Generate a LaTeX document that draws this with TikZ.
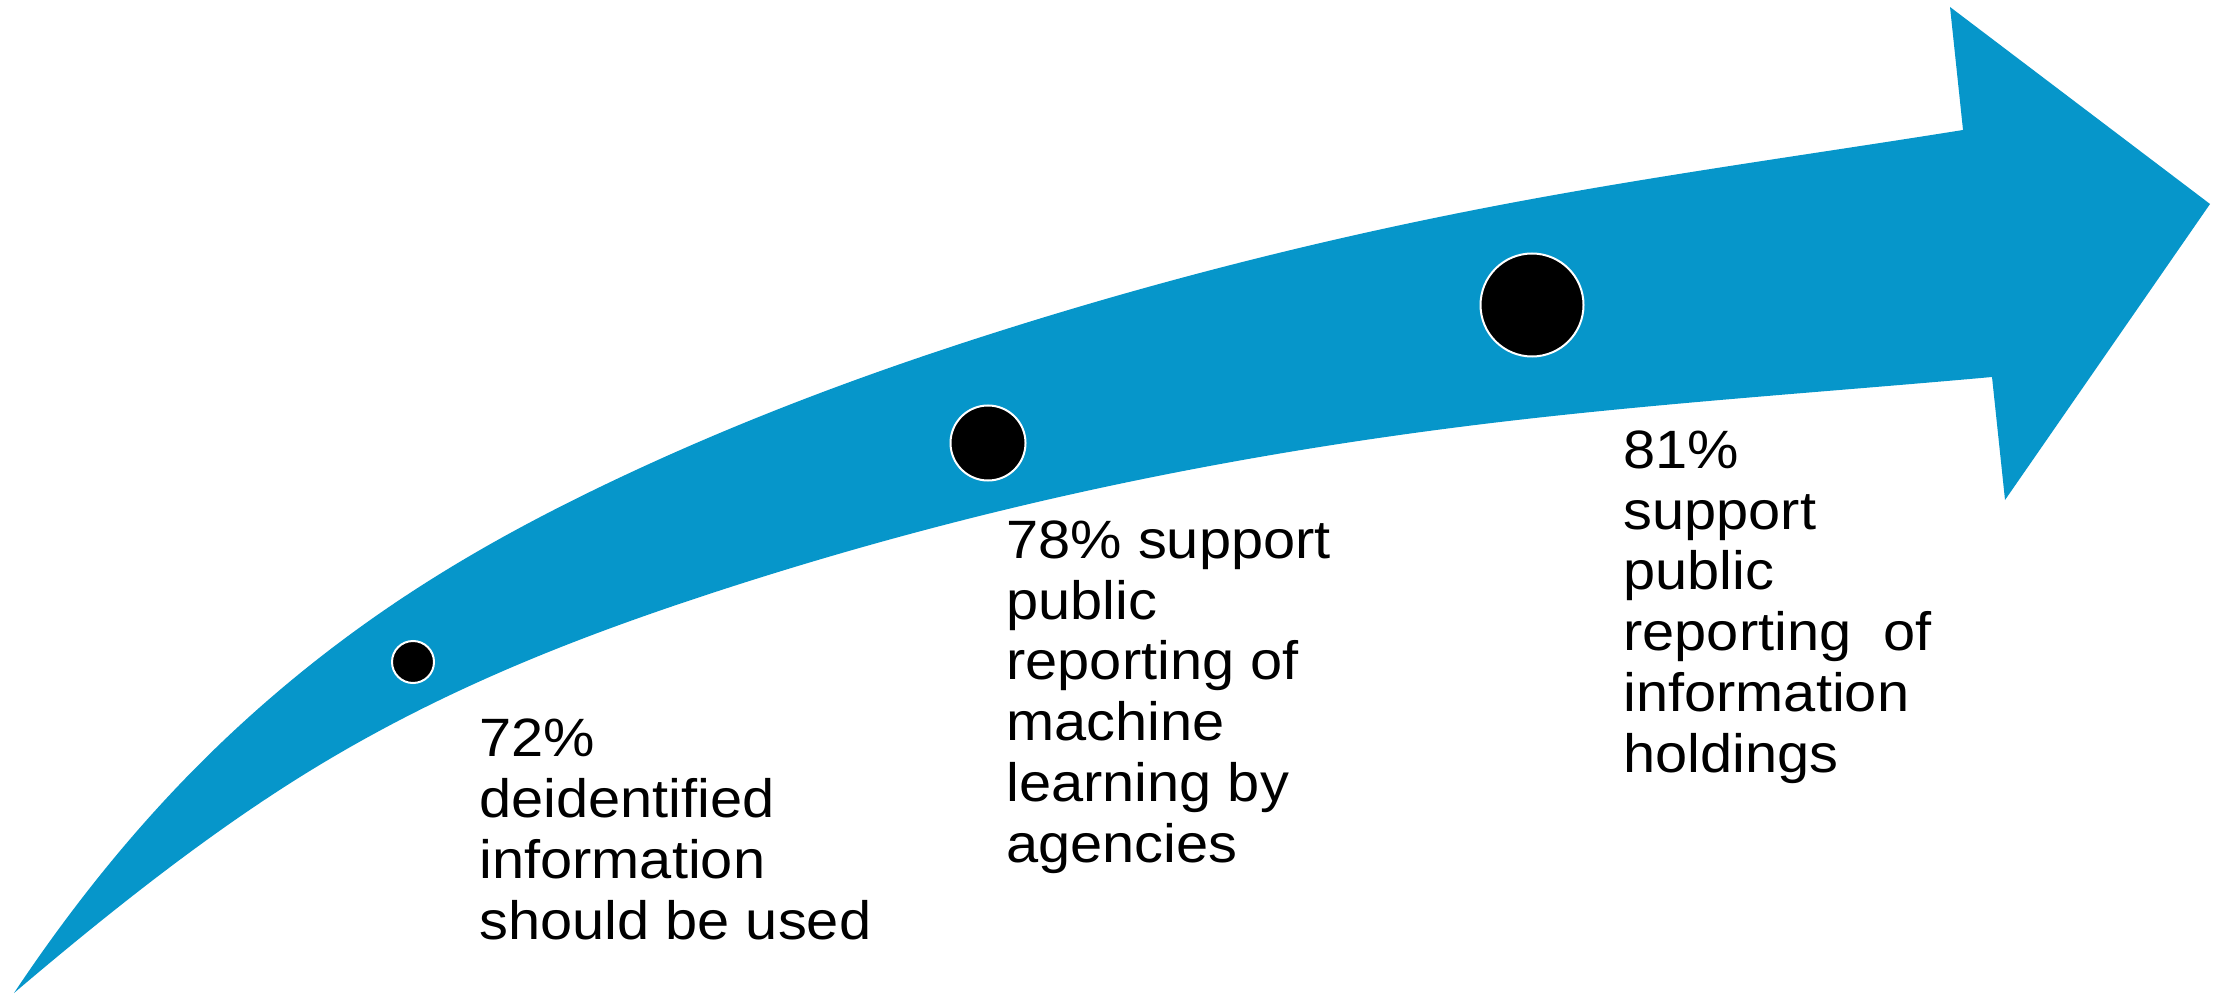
\documentclass[tikz,border=0pt]{standalone}
\usepackage{fontspec}
\setmainfont{Liberation Sans}[FakeStretch=1.07]
\definecolor{arrowblue}{RGB}{6,150,202}
\begin{document}
\begin{tikzpicture}[x=0.5pt,y=-0.5pt,
  dot/.style={circle,fill=black,draw=white,line width=1pt,inner sep=0pt},
  label/.style={anchor=base west,align=left,inner sep=0pt,
    font=\fontsize{27pt}{30.35pt}\selectfont}]
\useasboundingbox (0,0) rectangle (2226,994);
\fill[arrowblue]
  (14,993) .. controls (98.33,866.5) and (182.67,774.3) .. (267,701)
  .. controls (378,604.5) and (489,540.6) .. (600,487)
  .. controls (733.33,422.7) and (866.67,373.2) .. (1000,331)
  .. controls (1166.67,278.2) and (1333.33,236.7) .. (1500,205)
  .. controls (1654.33,175.6) and (1808.67,154.7) .. (1963,130)
  -- (1950,7) -- (2210,204) -- (2005,500) -- (1992,377)
  .. controls (1828,391.8) and (1664,402.6) .. (1500,422)
  .. controls (1366.67,437.8) and (1233.33,459.3) .. (1100,488)
  .. controls (966.67,516.7) and (833.33,552.8) .. (700,597)
  .. controls (566.67,641.2) and (433.33,693.7) .. (300,777)
  .. controls (204.67,836.6) and (109.33,912) .. (14,993)
  -- cycle;
\node[dot,minimum size=21pt] (c1) at (413,662) {};
\node[dot,minimum size=37.5pt] (c2) at (988,443) {};
\node[dot,minimum size=51.5pt] (c3) at (1532,305) {};
\node[label] (t1) at (479,939) {72\%\\deidentified\\information\\should be used};
\node[label] (t2) at (1006,862) {78\% support\\public\\reporting of\\machine\\learning by\\agencies};
\node[label] (t3) at (1623,772) {81\%\\support\\public\\reporting\ \ of\\information\\holdings};
\end{tikzpicture}
\end{document}
